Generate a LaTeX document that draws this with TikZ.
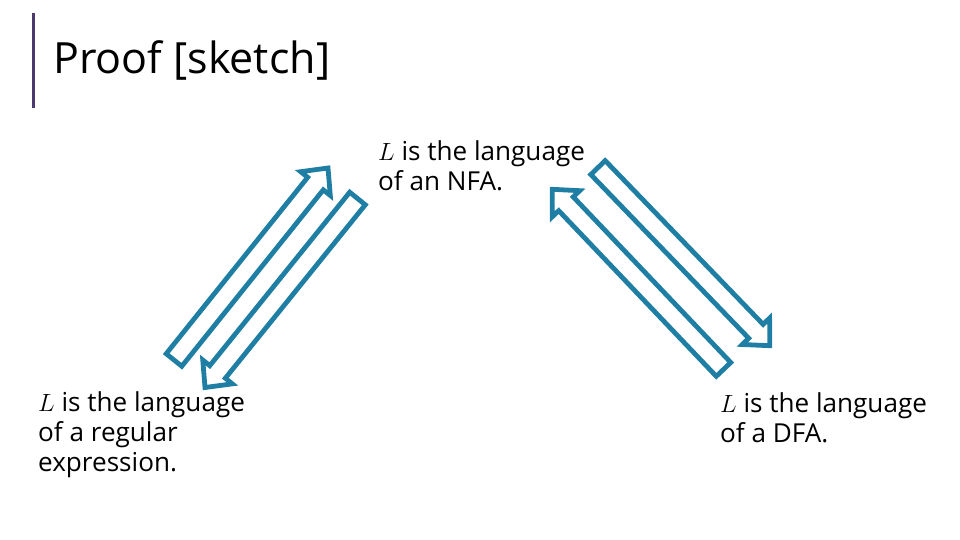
\documentclass[tikz,border=0pt]{standalone}
\usepackage{fontspec}
\setmainfont{Open Sans}
\usetikzlibrary{calc}

\definecolor{arrowblue}{RGB}{30,126,163}
\definecolor{barpurple}{RGB}{74,58,112}

% hollow block arrow: tail, tip, name of its neck
\newcommand{\hollowarrow}[3]{%
  \coordinate (#3) at ($(#2)!20pt!(#1)$);
  \draw[blockarr] ($(#1)!10pt!90:(#2)$) -- ($(#3)!10pt!90:(#2)$)
    -- ($(#3)!19pt!90:(#2)$) -- (#2) -- ($(#3)!19pt!-90:(#2)$)
    -- ($(#3)!10pt!-90:(#2)$) -- ($(#1)!10pt!-90:(#2)$) -- cycle;}

\begin{document}
\begin{tikzpicture}[
  x = 1pt, y = -1pt,
  heading/.style  = {anchor=base west, inner sep=0pt,
                     font=\fontsize{43}{50}\selectfont},
  lang/.style     = {anchor=base west, inner sep=0pt, align=left,
                     font=\fontsize{26.1}{30}\selectfont},
  blockarr/.style = {draw=arrowblue, line width=4.8pt, fill=white,
                     line join=miter}
]
\useasboundingbox (0,0) rectangle (960,540);

% Title
\draw[barpurple, line width=3pt] (33.5,13) -- (33.5,108);
\node[heading] (title) at (53,74) {Proof [sketch]};

% Nodes (base = last line)
\node[lang] (nfa) at (378,190) {$L$ is the language\\of an NFA.};
\node[lang] (re)  at (38,471)  {$L$ is the language\\of a regular\\expression.};
\node[lang] (dfa) at (720,442) {$L$ is the language\\of a DFA.};

% Arrow ends
\coordinate (reup)    at (174,360);
\coordinate (nfadown) at (328,168);
\coordinate (nfaleft) at (357.5,198.5);
\coordinate (rein)    at (205,387.5);
\coordinate (dfaup)   at (723.5,369.4);
\coordinate (nfain)   at (552.2,189.3);
\coordinate (nfaout)  at (598,167.6);
\coordinate (dfain)   at (769.8,345.7);

% Arrows
\hollowarrow{reup}{nfadown}{n1}
\hollowarrow{nfaleft}{rein}{n2}
\hollowarrow{dfaup}{nfain}{n3}
\hollowarrow{nfaout}{dfain}{n4}
\end{tikzpicture}
\end{document}
